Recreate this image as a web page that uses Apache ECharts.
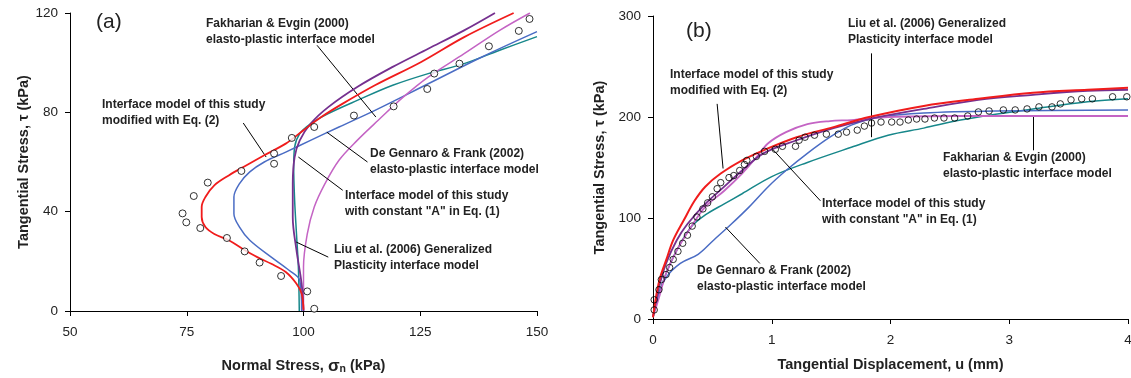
<!DOCTYPE html>
<html>
<head>
<meta charset="utf-8">
<script src="https://cdn.jsdelivr.net/npm/echarts@6/dist/echarts.min.js"></script>
<style>
  html, body { margin: 0; padding: 0; background: #fff; }
  #chart { width: 1131px; height: 378px; }
</style>
</head>
<body>
<div id="chart"></div>
<script>
  // (a) normal stress vs tangential stress, [sigma_n, tau] kPa
  const aTest = [[102.3, 0.9], [100.8, 7.9], [95.2, 14.1], [90.6, 19.5], [87.4, 24], [83.6, 29.4], [77.9, 33.4], [74.9, 35.7], [74.1, 39.3], [76.5, 46.3], [79.5, 51.7], [86.7, 56.4], [93.7, 59.3], [93.7, 63.4], [97.5, 69.7], [102.3, 74.1], [110.8, 78.7], [119.3, 82.4], [126.5, 89.4], [128, 95.6], [133.4, 99.6], [139.7, 106.6], [146.1, 112.8], [148.4, 117.6]];
  const aModified = [[100, 0.5], [99.6, 7], [98.5, 11], [96.2, 15.7], [93.1, 19], [90.1, 21.7], [87, 25], [84, 28.5], [80.9, 31], [79, 33.8], [78.2, 37.9], [78.2, 41.9], [79, 45.9], [80.9, 50.6], [84, 54.6], [87.8, 58.7], [91.6, 62.7], [96.2, 67.4], [100, 72.8], [103.8, 78.1], [108.4, 83.5], [115.3, 90.9], [125.2, 100.3], [134.4, 110.3], [145, 120]];
  const aConstA = [[100, 0], [99.6, 11], [98.5, 24.4], [97.7, 37.9], [97.7, 51.3], [98.1, 62], [99.2, 68.7], [101.5, 75.4], [105.3, 82.1], [111.5, 90.2], [119.1, 98.3], [126.7, 105.6], [134.4, 113], [141, 120]];
  const aFakharian = [[100, 0], [100, 17.7], [100.8, 31], [102.3, 41.9], [104.6, 51.3], [107.6, 60.7], [111.5, 68.7], [116, 76.8], [121.4, 86.2], [126.7, 94.2], [134.4, 103.6], [142, 113], [148.5, 120]];
  const aDeGennaro = [[99.6, 0], [99.2, 12.3], [96.9, 16.4], [93.1, 21.7], [88.5, 28.5], [86.3, 33.8], [85.1, 39.2], [85.1, 45.9], [86.3, 51.3], [88.5, 56], [91.6, 60], [96.2, 64], [101.5, 68.7], [107.6, 74.1], [115.3, 80.8], [126.7, 91.5], [138.2, 102.3], [150, 112.5]];
  const aLiu = [[99.1, 0], [98.9, 17.7], [98.5, 31], [98.1, 44.6], [97.9, 58], [98.1, 66], [99.2, 71.4], [101.5, 75.4], [105.3, 79.5], [111.5, 84.8], [119.1, 90.9], [126.7, 95.6], [134.4, 99.6], [142, 105], [150, 110.5]];

  // (b) tangential displacement vs tangential stress, [u mm, tau kPa]
  const bTest = [[0.01, 9], [0.01, 19], [0.05, 29], [0.07, 39], [0.11, 44], [0.14, 51], [0.17, 59], [0.21, 67], [0.25, 75], [0.29, 83], [0.33, 92], [0.37, 101], [0.42, 109], [0.46, 115], [0.5, 121], [0.54, 129], [0.57, 135], [0.64, 140], [0.68, 142], [0.73, 147], [0.77, 153], [0.79, 157], [0.87, 161], [0.94, 166], [1.03, 168], [1.09, 171], [1.2, 171], [1.23, 177], [1.28, 180], [1.36, 182], [1.46, 183], [1.56, 183], [1.63, 185], [1.72, 187], [1.78, 191], [1.84, 194], [1.92, 195], [2.01, 195], [2.08, 195], [2.15, 197], [2.22, 198], [2.29, 198], [2.37, 199], [2.45, 199], [2.54, 199], [2.65, 201], [2.74, 205], [2.83, 206], [2.95, 207], [3.05, 207], [3.15, 208], [3.25, 210], [3.36, 210], [3.43, 213], [3.52, 217], [3.61, 218], [3.7, 218], [3.87, 220], [3.99, 220]];
  const bModified = [[0, 1.7], [0.03, 25], [0.06, 41], [0.11, 58], [0.17, 78], [0.26, 98], [0.35, 117], [0.44, 131], [0.57, 144], [0.75, 157], [0.93, 167], [1.21, 180], [1.52, 190], [1.82, 200], [2.28, 211], [2.74, 218], [3.2, 224], [3.66, 227], [4, 229]];
  const bConstA = [[0, 2], [0.05, 31], [0.11, 55], [0.2, 78], [0.29, 94], [0.44, 114], [0.6, 131], [0.75, 147], [0.93, 164], [1.21, 177], [1.52, 189], [1.82, 198], [2.28, 208], [2.74, 217], [3.2, 222], [3.66, 226], [4, 227]];
  const bFakharian = [[0, 2], [0.05, 21], [0.11, 45], [0.2, 68], [0.32, 91], [0.44, 111], [0.6, 127], [0.75, 144], [0.87, 160], [0.97, 174], [1.12, 185], [1.3, 193], [1.49, 196], [1.67, 197], [1.98, 200], [2.59, 201], [4, 201]];
  const bDeGennaro = [[0, 2], [0.05, 25], [0.11, 41], [0.23, 55], [0.38, 64], [0.51, 78], [0.66, 94], [0.81, 111], [0.97, 131], [1.12, 147], [1.3, 164], [1.49, 180], [1.67, 192], [1.92, 200], [2.28, 204], [2.9, 206], [4, 207]];
  const bLiu = [[0, 2], [0.05, 25], [0.11, 45], [0.2, 68], [0.32, 91], [0.44, 103], [0.6, 114], [0.75, 124], [1, 141], [1.3, 155], [1.67, 170], [1.98, 182], [2.28, 189], [2.59, 197], [2.9, 203], [3.2, 208], [3.66, 215], [4, 218]];

  const C = {
    red: '#f01c1c',
    purple: '#75308f',
    magenta: '#c464c4',
    blue: '#4a6cc4',
    teal: '#17878a',
  };

  const labelFont = 'Arial, "Liberation Sans", sans-serif';

  const axisCommon = {
    axisLine: { lineStyle: { color: '#000', width: 1 } },
    axisTick: { inside: false, length: 5, lineStyle: { color: '#000' } },
    axisLabel: { color: '#222', fontSize: 13.5, fontFamily: labelFont },
    splitLine: { show: false },
    nameLocation: 'middle',
    nameTextStyle: { color: '#222', fontSize: 14.5, fontWeight: 'bold', fontFamily: labelFont },
  };

  const curve = (data, color, xi, width, z, extra) => Object.assign({
    type: 'line',
    xAxisIndex: xi,
    yAxisIndex: xi,
    data: data,
    showSymbol: false,
    smooth: 0.35,
    lineStyle: { color: color, width: width || 1.5 },
    z: z,
    silent: true,
  }, extra || {});

  // 引线（数据坐标）
  const leader = (pairs) => ({
    symbol: 'none',
    silent: true,
    label: { show: false },
    lineStyle: { color: '#000', width: 1, type: 'solid' },
    data: pairs.map(p => [{ coord: p[0] }, { coord: p[1] }]),
  });

  const notes = [
    // [text, left, top]
    ['Fakharian & Evgin (2000)\nelasto-plastic interface model', 206, 16],
    ['Interface model of this study\nmodified with Eq. (2)', 102, 97],
    ['De Gennaro & Frank (2002)\nelasto-plastic interface model', 370, 146],
    ['Interface model of this study\nwith constant "A" in Eq. (1)', 345, 188],
    ['Liu et al. (2006) Generalized\nPlasticity interface model', 334, 242],
    ['Liu et al. (2006) Generalized\nPlasticity interface model', 848, 16],
    ['Interface model of this study\nmodified with Eq. (2)', 670, 67],
    ['Fakharian & Evgin (2000)\nelasto-plastic interface model', 943, 150],
    ['Interface model of this study\nwith constant "A" in Eq. (1)', 822, 196],
    ['De Gennaro & Frank (2002)\nelasto-plastic interface model', 697, 263],
  ];

  const chart = echarts.init(document.getElementById('chart'));
  const option = {
    backgroundColor: '#fff',
    animation: false,
    grid: [
      { left: 70, right: 594, top: 13, bottom: 67, containLabel: false, outerBoundsMode: 'none' },
      { left: 653, right: 3, top: 16, bottom: 59, containLabel: false, outerBoundsMode: 'none' },
    ],
    xAxis: [
      Object.assign({}, axisCommon, {
        gridIndex: 0, type: 'value', min: 50, max: 150, interval: 25,
        name: '{t|Normal Stress, }{g|σ}{s|n}{t| (kPa)}',
        nameGap: 46,
        nameTextStyle: {
          rich: {
            t: { fontSize: 14.5, fontWeight: 'bold', color: '#222', fontFamily: labelFont },
            g: { fontSize: 17, fontWeight: 'bold', color: '#222', fontFamily: labelFont },
            s: { fontSize: 10.5, fontWeight: 'bold', color: '#222', fontFamily: labelFont, padding: [7, 0, 0, 0] },
          },
        },
        axisLabel: Object.assign({}, axisCommon.axisLabel, { margin: 14 }),
      }),
      Object.assign({}, axisCommon, {
        gridIndex: 1, type: 'value', min: 0, max: 4, interval: 1,
        name: 'Tangential Displacement, u (mm)',
        nameGap: 38,
        axisLabel: Object.assign({}, axisCommon.axisLabel, { margin: 14 }),
      }),
    ],
    yAxis: [
      Object.assign({}, axisCommon, {
        gridIndex: 0, type: 'value', min: 0, max: 120, interval: 40,
        name: 'Tangential Stress, τ (kPa)',
        nameGap: 38,
        axisLabel: Object.assign({}, axisCommon.axisLabel, { margin: 12 }),
      }),
      Object.assign({}, axisCommon, {
        gridIndex: 1, type: 'value', min: 0, max: 300, interval: 100,
        name: 'Tangential Stress, τ (kPa)',
        nameGap: 46,
        axisLabel: Object.assign({}, axisCommon.axisLabel, { margin: 12 }),
      }),
    ],
    series: [
      curve(aLiu, C.teal, 0, 1.5, 2),
      curve(aDeGennaro, C.blue, 0, 1.5, 3),
      curve(aFakharian, C.magenta, 0, 1.5, 4),
      curve(aConstA, C.purple, 0, 1.8, 5),
      curve(aModified, C.red, 0, 1.8, 6, {
        markLine: leader([
          [[102.9, 107], [115.5, 78.1]],
          [[87.1, 75.7], [92, 62]],
          [[113.7, 60], [105, 72]],
          [[108.4, 48.6], [98.9, 62]],
          [[105.3, 21.7], [98.4, 27.8]],
        ]),
      }),
      {
        type: 'scatter', xAxisIndex: 0, yAxisIndex: 0, data: aTest,
        symbol: 'circle', symbolSize: 7, z: 10, silent: true,
        itemStyle: { color: '#fff', borderColor: '#000', borderWidth: 1 },
      },
      curve(bLiu, C.teal, 1, 1.5, 2),
      curve(bDeGennaro, C.blue, 1, 1.5, 3),
      curve(bFakharian, C.magenta, 1, 1.8, 4),
      curve(bConstA, C.purple, 1, 1.8, 5),
      curve(bModified, C.red, 1, 2, 6, {
        markLine: leader([
          [[1.84, 263], [1.84, 180]],
          [[0.54, 213], [0.59, 149]],
          [[3.2, 200], [3.2, 167]],
          [[1.41, 117], [1.0, 169]],
          [[0.9, 55], [0.61, 91]],
        ]),
      }),
      {
        type: 'scatter', xAxisIndex: 1, yAxisIndex: 1, data: bTest,
        symbol: 'circle', symbolSize: 6.5, z: 10, silent: true,
        itemStyle: { color: 'rgba(255,255,255,0)', borderColor: '#000', borderWidth: 1 },
      },
    ],
    graphic: [
      { type: 'text', left: 96, top: 12, style: { text: '(a)', font: '21px ' + labelFont, fill: '#222' } },
      { type: 'text', left: 686, top: 21, style: { text: '(b)', font: '21px ' + labelFont, fill: '#222' } },
    ].concat(notes.map(n => ({
      type: 'text', left: n[1], top: n[2], silent: true,
      style: { text: n[0], font: 'bold 12px ' + labelFont, fill: '#222', lineHeight: 15.5 },
    }))),
  };
  option && chart.setOption(option);
</script>
</body>
</html>
